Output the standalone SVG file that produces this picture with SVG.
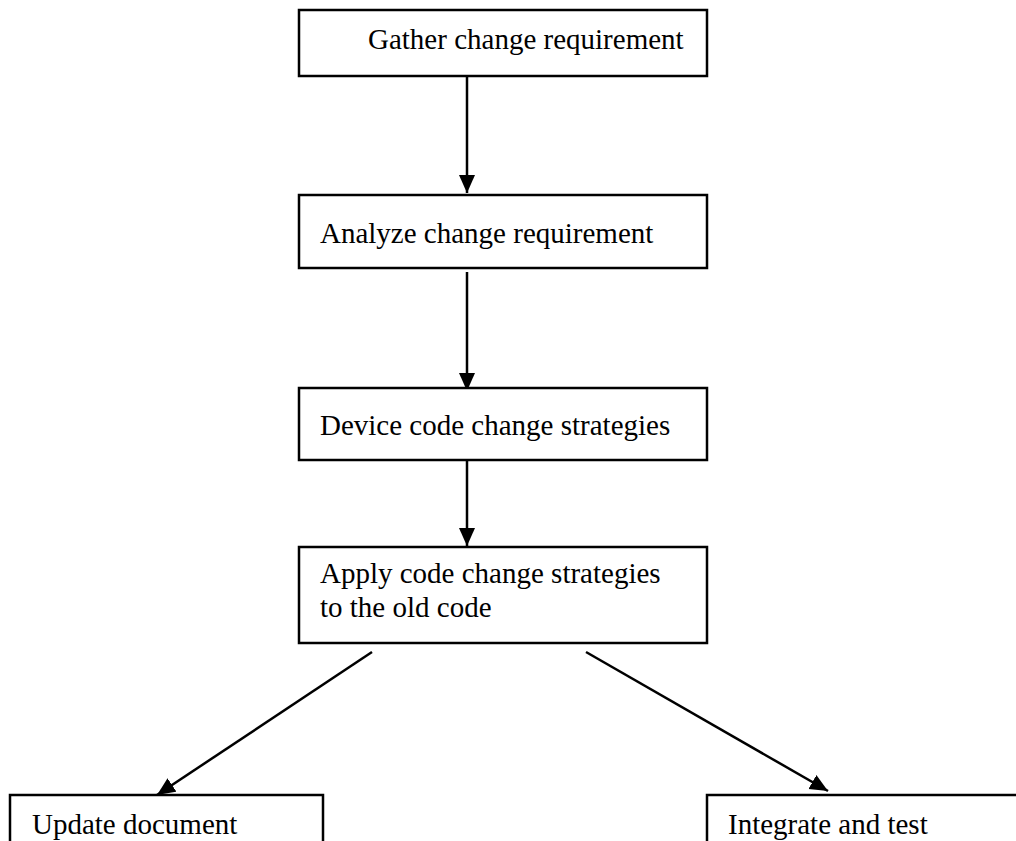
<svg xmlns="http://www.w3.org/2000/svg" width="1016" height="841" viewBox="0 0 1016 841">
  <style>
    .box { fill: #ffffff; stroke: #000000; stroke-width: 2.5; }
    .label { font-family: "Liberation Serif", "Times New Roman", serif; font-size: 29px; fill: #000000; }
    .link { stroke: #000000; stroke-width: 2.5; fill: none; marker-end: url(#head); }
  </style>
  <defs>
    <marker id="head" markerUnits="userSpaceOnUse" markerWidth="20" markerHeight="18" refX="18" refY="8" orient="auto">
      <path d="M0,0 L18,8 L0,16 Z" fill="#000000"/>
    </marker>
  </defs>
  <rect width="1016" height="841" fill="#ffffff"/>

  <g id="connectors">
    <line class="link" x1="467" y1="77" x2="467" y2="193"/>
    <line class="link" x1="467" y1="272" x2="467" y2="391"/>
    <line class="link" x1="467" y1="450" x2="467" y2="546"/>
    <line class="link" x1="372" y1="652" x2="157" y2="795"/>
    <line class="link" x1="586" y1="652" x2="828" y2="791"/>
  </g>

  <g id="gather">
    <rect class="box" x="299" y="10" width="408" height="66"/>
    <text class="label" x="368" y="49">Gather change requirement</text>
  </g>
  <g id="analyze">
    <rect class="box" x="299" y="195" width="408" height="73"/>
    <text class="label" x="320" y="243">Analyze change requirement</text>
  </g>
  <g id="device">
    <rect class="box" x="299" y="388" width="408" height="72"/>
    <text class="label" x="320" y="435">Device code change strategies</text>
  </g>
  <g id="apply">
    <rect class="box" x="299" y="547" width="408" height="96"/>
    <text class="label" x="320" y="583">Apply code change strategies</text>
    <text class="label" x="320" y="617">to the old code</text>
  </g>
  <g id="update">
    <rect class="box" x="10" y="795" width="313" height="60"/>
    <text class="label" x="32" y="834">Update document</text>
  </g>
  <g id="integrate">
    <rect class="box" x="707" y="795" width="320" height="60"/>
    <text class="label" x="728" y="834">Integrate and test</text>
  </g>
</svg>
